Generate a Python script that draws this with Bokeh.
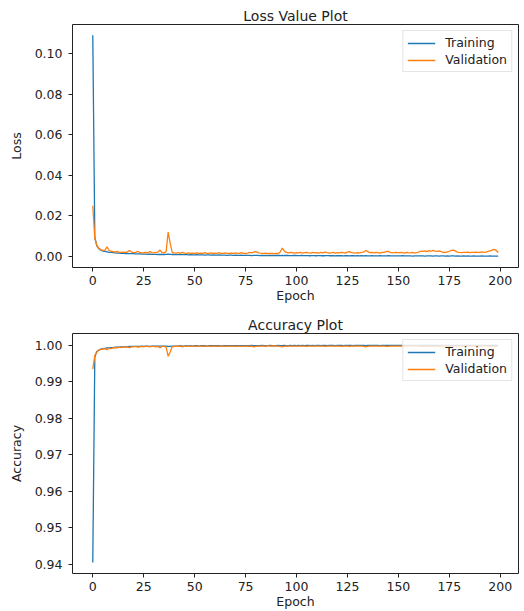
from bokeh.plotting import figure
from bokeh.layouts import column
from bokeh.models import FixedTicker, NumeralTickFormatter, Range1d, Legend, LegendItem
from bokeh.embed import file_html
from bokeh.resources import INLINE

epochs = list(range(200))

train_loss = [
    0.1090, 0.0095, 0.0052, 0.0038, 0.0031, 0.0027, 0.0025, 0.0023, 0.0021, 0.0020,
    0.0019, 0.0018, 0.0017, 0.0017, 0.0016, 0.0016, 0.0015, 0.0015, 0.0014, 0.0014,
    0.0014, 0.0013, 0.0013, 0.0013, 0.0012, 0.0012, 0.0012, 0.0011, 0.0012, 0.0011,
    0.0011, 0.0011, 0.0010, 0.0011, 0.0010, 0.0010, 0.0011, 0.0012, 0.0011, 0.0010,
    0.0010, 0.0009, 0.0009, 0.0010, 0.0009, 0.0009, 0.0009, 0.0008, 0.0009, 0.0008,
    0.0008, 0.0009, 0.0008, 0.0008, 0.0008, 0.0007, 0.0008, 0.0008, 0.0007, 0.0008,
    0.0007, 0.0007, 0.0008, 0.0007, 0.0007, 0.0007, 0.0006, 0.0007, 0.0007, 0.0006,
    0.0007, 0.0006, 0.0006, 0.0007, 0.0006, 0.0006, 0.0006, 0.0006, 0.0005, 0.0006,
    0.0006, 0.0006, 0.0005, 0.0006, 0.0005, 0.0006, 0.0005, 0.0005, 0.0006, 0.0005,
    0.0005, 0.0005, 0.0005, 0.0006, 0.0005, 0.0005, 0.0005, 0.0004, 0.0005, 0.0005,
    0.0005, 0.0004, 0.0005, 0.0005, 0.0004, 0.0005, 0.0004, 0.0004, 0.0005, 0.0004,
    0.0004, 0.0005, 0.0004, 0.0004, 0.0004, 0.0005, 0.0004, 0.0004, 0.0004, 0.0003,
    0.0004, 0.0004, 0.0004, 0.0003, 0.0004, 0.0004, 0.0003, 0.0004, 0.0004, 0.0003,
    0.0004, 0.0003, 0.0004, 0.0003, 0.0004, 0.0003, 0.0003, 0.0004, 0.0003, 0.0003,
    0.0003, 0.0004, 0.0003, 0.0003, 0.0003, 0.0004, 0.0003, 0.0003, 0.0003, 0.0003,
    0.0003, 0.0003, 0.0004, 0.0003, 0.0003, 0.0003, 0.0003, 0.0002, 0.0003, 0.0003,
    0.0003, 0.0003, 0.0003, 0.0002, 0.0003, 0.0003, 0.0003, 0.0002, 0.0003, 0.0003,
    0.0002, 0.0003, 0.0003, 0.0002, 0.0003, 0.0002, 0.0003, 0.0003, 0.0002, 0.0003,
    0.0002, 0.0002, 0.0003, 0.0002, 0.0003, 0.0002, 0.0002, 0.0003, 0.0002, 0.0002,
    0.0002, 0.0003, 0.0002, 0.0002, 0.0002, 0.0003, 0.0002, 0.0002, 0.0002, 0.0002,
]

val_loss = [
    0.0250, 0.0090, 0.0055, 0.0040, 0.0034, 0.0030, 0.0032, 0.0048, 0.0030, 0.0026,
    0.0024, 0.0022, 0.0025, 0.0021, 0.0020, 0.0022, 0.0020, 0.0023, 0.0030, 0.0022,
    0.0020, 0.0019, 0.0026, 0.0020, 0.0018, 0.0019, 0.0021, 0.0018, 0.0024, 0.0019,
    0.0018, 0.0020, 0.0022, 0.0032, 0.0019, 0.0018, 0.0025, 0.0120, 0.0065, 0.0020,
    0.0018, 0.0017, 0.0019, 0.0016, 0.0021, 0.0017, 0.0016, 0.0018, 0.0015, 0.0017,
    0.0016, 0.0018, 0.0015, 0.0017, 0.0016, 0.0019, 0.0015, 0.0016, 0.0018, 0.0015,
    0.0017, 0.0016, 0.0019, 0.0015, 0.0016, 0.0018, 0.0016, 0.0015, 0.0017, 0.0016,
    0.0018, 0.0015, 0.0016, 0.0019, 0.0016, 0.0015, 0.0017, 0.0020, 0.0018, 0.0022,
    0.0024, 0.0019, 0.0017, 0.0016, 0.0015, 0.0017, 0.0014, 0.0016, 0.0015, 0.0014,
    0.0016, 0.0015, 0.0022, 0.0042, 0.0028, 0.0020, 0.0018, 0.0021, 0.0019, 0.0017,
    0.0019, 0.0018, 0.0020, 0.0017, 0.0019, 0.0021, 0.0018, 0.0017, 0.0020, 0.0018,
    0.0019, 0.0017, 0.0020, 0.0018, 0.0022, 0.0019, 0.0017, 0.0018, 0.0020, 0.0017,
    0.0019, 0.0018, 0.0021, 0.0019, 0.0017, 0.0022, 0.0024, 0.0019, 0.0018, 0.0017,
    0.0019, 0.0018, 0.0020, 0.0022, 0.0030, 0.0024, 0.0019, 0.0021, 0.0018, 0.0020,
    0.0019, 0.0017, 0.0021, 0.0020, 0.0024, 0.0026, 0.0020, 0.0018, 0.0019, 0.0021,
    0.0018, 0.0020, 0.0019, 0.0017, 0.0021, 0.0019, 0.0018, 0.0020, 0.0017, 0.0019,
    0.0022, 0.0026, 0.0025, 0.0028, 0.0024, 0.0029, 0.0026, 0.0030, 0.0027, 0.0025,
    0.0028, 0.0024, 0.0021, 0.0020, 0.0023, 0.0026, 0.0030, 0.0032, 0.0027, 0.0022,
    0.0020, 0.0019, 0.0021, 0.0020, 0.0022, 0.0019, 0.0021, 0.0020, 0.0022, 0.0021,
    0.0020, 0.0023, 0.0021, 0.0022, 0.0025, 0.0028, 0.0032, 0.0035, 0.0030, 0.0020,
]

train_acc = [
    0.9405, 0.9968, 0.9983, 0.9987, 0.9990, 0.9991, 0.9992, 0.9993, 0.9993, 0.9994,
    0.9994, 0.9995, 0.9995, 0.9995, 0.9996, 0.9996, 0.9996, 0.9996, 0.9997, 0.9997,
    0.9997, 0.9997, 0.9997, 0.9997, 0.9998, 0.9997, 0.9998, 0.9998, 0.9997, 0.9998,
    0.9998, 0.9998, 0.9998, 0.9998, 0.9998, 0.9998, 0.9998, 0.9997, 0.9997, 0.9998,
    0.9998, 0.9998, 0.9998, 0.9999, 0.9998, 0.9998, 0.9999, 0.9998, 0.9999, 0.9998,
    0.9999, 0.9999, 0.9998, 0.9999, 0.9999, 0.9999, 0.9998, 0.9999, 0.9999, 0.9999,
    0.9999, 0.9999, 0.9999, 0.9998, 0.9999, 0.9999, 0.9999, 0.9999, 0.9999, 0.9999,
    0.9999, 0.9999, 0.9999, 0.9999, 0.9999, 0.9999, 0.9999, 0.9999, 1.0000, 0.9999,
    0.9999, 0.9999, 0.9999, 1.0000, 0.9999, 0.9999, 0.9999, 1.0000, 0.9999, 0.9999,
    0.9999, 1.0000, 0.9999, 0.9999, 1.0000, 0.9999, 0.9999, 1.0000, 0.9999, 1.0000,
    0.9999, 1.0000, 0.9999, 1.0000, 0.9999, 1.0000, 1.0000, 0.9999, 1.0000, 0.9999,
    1.0000, 1.0000, 0.9999, 1.0000, 1.0000, 0.9999, 1.0000, 1.0000, 1.0000, 0.9999,
    1.0000, 1.0000, 1.0000, 0.9999, 1.0000, 1.0000, 1.0000, 1.0000, 0.9999, 1.0000,
    1.0000, 1.0000, 1.0000, 1.0000, 0.9999, 1.0000, 1.0000, 1.0000, 1.0000, 1.0000,
    1.0000, 0.9999, 1.0000, 1.0000, 1.0000, 1.0000, 1.0000, 1.0000, 1.0000, 1.0000,
    1.0000, 1.0000, 1.0000, 1.0000, 1.0000, 0.9999, 1.0000, 1.0000, 1.0000, 1.0000,
    1.0000, 1.0000, 1.0000, 1.0000, 1.0000, 1.0000, 1.0000, 1.0000, 1.0000, 1.0000,
    1.0000, 1.0000, 1.0000, 1.0000, 1.0000, 1.0000, 1.0000, 1.0000, 1.0000, 1.0000,
    1.0000, 1.0000, 1.0000, 1.0000, 1.0000, 1.0000, 1.0000, 1.0000, 1.0000, 1.0000,
    1.0000, 1.0000, 1.0000, 1.0000, 1.0000, 1.0000, 1.0000, 1.0000, 1.0000, 1.0000,
]

val_acc = [
    0.9935, 0.9972, 0.9982, 0.9987, 0.9989, 0.9990, 0.9991, 0.9988, 0.9992, 0.9991,
    0.9993, 0.9994, 0.9993, 0.9995, 0.9994, 0.9995, 0.9996, 0.9995, 0.9994, 0.9996,
    0.9996, 0.9997, 0.9995, 0.9996, 0.9997, 0.9996, 0.9997, 0.9997, 0.9996, 0.9997,
    0.9997, 0.9996, 0.9997, 0.9994, 0.9997, 0.9997, 0.9995, 0.9970, 0.9982, 0.9996,
    0.9997, 0.9998, 0.9997, 0.9998, 0.9996, 0.9998, 0.9998, 0.9997, 0.9998, 0.9998,
    0.9998, 0.9997, 0.9998, 0.9998, 0.9998, 0.9997, 0.9998, 0.9998, 0.9997, 0.9998,
    0.9998, 0.9998, 0.9997, 0.9998, 0.9998, 0.9997, 0.9998, 0.9998, 0.9998, 0.9998,
    0.9997, 0.9998, 0.9998, 0.9997, 0.9998, 0.9998, 0.9998, 0.9997, 0.9998, 0.9996,
    0.9997, 0.9998, 0.9998, 0.9998, 0.9998, 0.9998, 0.9999, 0.9998, 0.9998, 0.9999,
    0.9998, 0.9998, 0.9997, 0.9996, 0.9997, 0.9998, 0.9998, 0.9998, 0.9998, 0.9998,
    0.9998, 0.9998, 0.9998, 0.9998, 0.9998, 0.9997, 0.9998, 0.9998, 0.9998, 0.9998,
    0.9998, 0.9998, 0.9998, 0.9998, 0.9997, 0.9998, 0.9998, 0.9998, 0.9998, 0.9998,
    0.9998, 0.9998, 0.9997, 0.9998, 0.9998, 0.9998, 0.9997, 0.9998, 0.9998, 0.9998,
    0.9998, 0.9998, 0.9998, 0.9997, 0.9996, 0.9997, 0.9998, 0.9998, 0.9998, 0.9998,
    0.9998, 0.9998, 0.9998, 0.9998, 0.9997, 0.9997, 0.9998, 0.9998, 0.9998, 0.9998,
    0.9998, 0.9998, 0.9998, 0.9998, 0.9998, 0.9998, 0.9998, 0.9998, 0.9998, 0.9998,
    0.9998, 0.9997, 0.9997, 0.9997, 0.9998, 0.9997, 0.9997, 0.9997, 0.9997, 0.9998,
    0.9997, 0.9998, 0.9998, 0.9998, 0.9998, 0.9997, 0.9997, 0.9997, 0.9997, 0.9998,
    0.9998, 0.9998, 0.9998, 0.9998, 0.9998, 0.9998, 0.9998, 0.9998, 0.9998, 0.9998,
    0.9998, 0.9998, 0.9998, 0.9998, 0.9997, 0.9997, 0.9997, 0.9996, 0.9997, 0.9998,
]

x_ticks = [0, 25, 50, 75, 100, 125, 150, 175, 200]
loss_ticks = [0.00, 0.02, 0.04, 0.06, 0.08, 0.10]
acc_ticks = [0.94, 0.95, 0.96, 0.97, 0.98, 0.99, 1.00]

BLUE = "#1f77b4"
ORANGE = "#ff7f0e"
FONT = "DejaVu Sans"


def make_fig(title, ylabel, yticks, ylo, yhi, top_border, bottom_border, frame_h):
    p = figure(frame_width=446, frame_height=frame_h, output_backend="svg",
               toolbar_location=None, x_range=Range1d(-9.95, 208.95),
               y_range=Range1d(ylo, yhi), min_border_left=72, min_border_right=6,
               min_border_top=top_border, min_border_bottom=bottom_border)
    p.title.text = title
    p.title.align = "center"
    p.title.text_font = FONT
    p.title.text_font_size = "14px"
    p.title.text_font_style = "normal"
    p.title.text_color = "#222222"
    p.title.offset = 0
    p.title.standoff = 2
    p.grid.visible = False
    p.outline_line_color = "#222222"
    p.outline_line_width = 1
    for ax in (p.xaxis[0], p.yaxis[0]):
        ax.axis_line_color = None
        ax.major_tick_line_color = "#222222"
        ax.major_tick_out = 4
        ax.major_tick_in = 0
        ax.minor_tick_line_color = None
        ax.major_label_text_font = FONT
        ax.major_label_text_font_size = "12.5px"
        ax.major_label_text_color = "#222222"
        ax.axis_label_text_font = FONT
        ax.axis_label_text_font_size = "12.5px"
        ax.axis_label_text_font_style = "normal"
        ax.axis_label_text_color = "#222222"
    p.xaxis.major_label_standoff = 4
    p.xaxis.axis_label_standoff = 0
    p.yaxis.major_label_standoff = 6
    p.yaxis.axis_label_standoff = 8
    p.xaxis.ticker = FixedTicker(ticks=x_ticks)
    p.yaxis.ticker = FixedTicker(ticks=yticks)
    p.yaxis.formatter = NumeralTickFormatter(format="0.00")
    p.xaxis.axis_label = "Epoch"
    p.yaxis.axis_label = ylabel
    return p


def add_lines(p, tr, va):
    r1 = p.line(epochs, tr, line_color=BLUE, line_width=1.3)
    r2 = p.line(epochs, va, line_color=ORANGE, line_width=1.3)
    leg = Legend(items=[LegendItem(label="Training", renderers=[r1]),
                        LegendItem(label="Validation", renderers=[r2])],
                 location="top_right")
    leg.label_text_font = FONT
    leg.label_text_font_size = "12.5px"
    leg.label_text_color = "#222222"
    leg.glyph_width = 28
    leg.glyph_height = 14
    leg.label_height = 14
    leg.spacing = 2
    leg.padding = 4
    leg.margin = 6
    leg.border_line_color = "#cccccc"
    leg.border_line_width = 1
    leg.background_fill_alpha = 0.8
    leg.label_standoff = 10
    p.add_layout(leg)


p1 = make_fig("Loss Value Plot", "Loss", loss_ticks, -0.0054, 0.1143, 24, 42, 243)
add_lines(p1, train_loss, val_loss)

p2 = make_fig("Accuracy Plot", "Accuracy", acc_ticks, 0.9375, 1.00325, 24, 38, 240)
add_lines(p2, train_acc, val_acc)

layout = column(p1, p2, spacing=0)

open("out.html", "w").write(file_html(layout, INLINE))
